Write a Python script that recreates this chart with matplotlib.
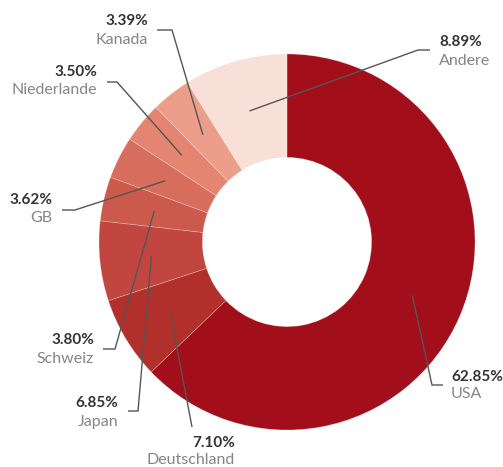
import matplotlib
matplotlib.use('Agg')
import matplotlib.pyplot as plt
import numpy as np

# Daten
laender = ['USA', 'Deutschland', 'Japan', 'Schweiz', 'GB', 'Niederlande', 'Kanada', 'Andere']
anteile = [62.85, 7.10, 6.85, 3.80, 3.62, 3.50, 3.39, 8.89]
beschriftung = ['62.85%', '7.10%', '6.85%', '3.80%', '3.62%', '3.50%', '3.39%', '8.89%']

farben = ['#A20F1A', '#B1302B', '#C14640', '#CB5A4C', '#D76D5C', '#E38571', '#EC9E8B', '#F8E0D8']

# Layout der Beschriftungen in Pixeln (Bild 503x467, y von oben)
# (Knick x, Knick y, Ende x, Text x, ha, y Zahl, y Name)
layout = [
    (432, 385, 443, 451, 'left', 377, 394),
    (192, 427, 192, 235, 'right', 443, 460),
    (138, 411, 128, 118, 'right', 403, 422),
    (115, 349, 103, 94, 'right', 340, 359),
    (75, 210, 62, 52, 'right', 200, 218),
    (117, 82, 107, 97, 'right', 72, 90),
    (172, 30, 157, 148, 'right', 21, 40),
    (418, 50, 430, 439, 'left', 42, 61),
]

W, H = 503, 467
cx, cy, R = 287, 242, 188

def px(x, y):
    return (x - cx) / R, (cy - y) / R

plt.rcParams['font.family'] = ['Lato', 'DejaVu Sans']

fig = plt.figure(figsize=(W / 100, H / 100), dpi=100)
ax = fig.add_axes([0, 0, 1, 1])

wedges, _ = ax.pie(anteile, colors=farben, startangle=90, counterclock=False,
                   radius=1.0,
                   wedgeprops=dict(width=0.55, edgecolor=(1, 1, 1, 0.25), linewidth=0.6))

for w, lay, zahl, name in zip(wedges, layout, beschriftung, laender):
    kx, ky, ex, tx, ha, yz, yn = lay
    mitte = np.deg2rad((w.theta1 + w.theta2) / 2)
    r = 0.725
    x0, y0 = r * np.cos(mitte), r * np.sin(mitte)
    k = px(kx, ky)
    e = px(ex, ky)
    ax.plot([x0, k[0], e[0]], [y0, k[1], e[1]], color='#555555', lw=1.0,
            solid_capstyle='butt', solid_joinstyle='miter')
    ax.text(*px(tx, yz), zahl, ha=ha, va='center', fontsize=11,
            fontweight='bold', color='#333333')
    ax.text(*px(tx, yn), name, ha=ha, va='center', fontsize=11.5,
            color='#858585')

ax.set_xlim(-cx / R, (W - cx) / R)
ax.set_ylim((cy - H) / R, cy / R)
ax.set_aspect('auto')
ax.axis('off')

fig.savefig('out.png', dpi=100)
